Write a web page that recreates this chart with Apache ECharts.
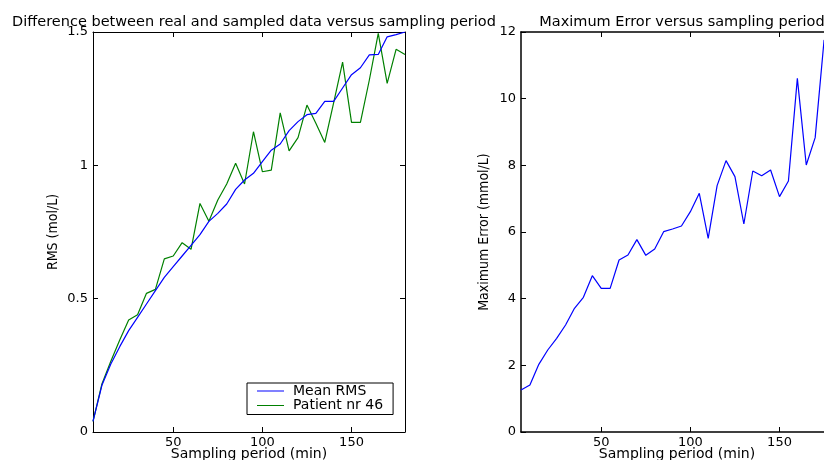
<!DOCTYPE html>
<html>
<head>
<meta charset="utf-8">
<script src="https://cdn.jsdelivr.net/npm/echarts@6/dist/echarts.min.js"></script>
<style>
html,body{margin:0;padding:0;background:#fff;overflow:hidden;}
#chart{width:824px;height:460px;}
</style>
</head>
<body>
<div id="chart"></div>
<script>
const samplingPeriod = [5,10,15,20,25,30,35,40,45,50,55,60,65,70,75,80,85,90,95,100,105,110,115,120,125,130,135,140,145,150,155,160,165,170,175,180];
const meanRms = [0.04,0.175,0.255,0.32,0.38,0.43,0.48,0.53,0.58,0.62,0.66,0.70,0.74,0.79,0.82,0.855,0.91,0.945,0.97,1.014,1.057,1.08,1.13,1.164,1.19,1.195,1.24,1.24,1.29,1.34,1.366,1.414,1.416,1.482,1.49,1.50];
const patient46 = [0.04,0.18,0.265,0.345,0.42,0.44,0.52,0.535,0.649,0.66,0.71,0.685,0.857,0.79,0.87,0.93,1.008,0.93,1.126,0.976,0.982,1.197,1.054,1.104,1.226,1.158,1.086,1.235,1.387,1.161,1.161,1.32,1.495,1.307,1.435,1.416];
const maxError = [1.26,1.41,2.03,2.46,2.81,3.21,3.71,4.04,4.69,4.31,4.31,5.16,5.31,5.77,5.30,5.49,6.01,6.09,6.18,6.61,7.16,5.81,7.39,8.14,7.66,6.24,7.83,7.69,7.86,7.06,7.53,10.61,8.01,8.83,11.76,11.2];
const xTicks = [50,100,150];
const rmsTicks = [0,0.5,1,1.5];
const errTicks = [0,2,4,6,8,10,12];
const titles = ['Difference between real and sampled data versus sampling period','Maximum Error versus sampling period'];
const xName = 'Sampling period (min)';
const yNames = ['RMS (mol/L)','Maximum Error (mmol/L)'];
const seriesNames = ['Mean RMS','Patient nr 46','Maximum Error'];

const FONT = "'DejaVu Sans', sans-serif";
const NARROW = "'Liberation Sans Narrow', 'DejaVu Sans Condensed', sans-serif";
const pairs = ys => samplingPeriod.map((x,i)=>[x, ys[i]]);

const grids = [
  {left:93, top:32, width:312, height:400, containLabel:false, outerBoundsMode:'none'},
  {left:521, top:32, width:312, height:400, containLabel:false, outerBoundsMode:'none'}
];
function xAx(g, pos, lw, withLabel){
  return {
    type:'value', gridIndex:g, position:pos, min:5, max:180,
    axisLine:{show:true, onZero:false, lineStyle:{color:'#000', width:lw}},
    axisTick:{show:true, inside:true, length:5, customValues:xTicks, lineStyle:{color:'#000', width:1}},
    axisLabel:{show:withLabel, customValues:xTicks, color:'#000', fontFamily:FONT, fontSize:13, margin:4},
    splitLine:{show:false},
    name: withLabel ? xName : '', nameLocation:'middle', nameGap:15, nameMoveOverlap:false,
    nameTextStyle:{color:'#000', fontFamily:FONT, fontSize:14}
  };
}
function yAx(g, pos, lw, withLabel, max, interval, name, gap){
  return {
    type:'value', gridIndex:g, position:pos, min:0, max:max, interval:interval,
    axisLine:{show:true, onZero:false, lineStyle:{color:'#000', width:lw}},
    axisTick:{show:true, inside:true, length:5, lineStyle:{color:'#000', width:1}},
    axisLabel:{show:withLabel, color:'#000', fontFamily:FONT, fontSize:13, margin:5},
    splitLine:{show:false},
    name: withLabel ? name : '', nameLocation:'middle', nameRotate:90, nameGap:gap, nameMoveOverlap:false,
    nameTextStyle:{color:'#000', fontFamily:NARROW, fontSize:14}
  };
}

const chart = echarts.init(document.getElementById('chart'), null, {renderer:'canvas'});
chart.setOption({
  animation:false,
  backgroundColor:'#fff',
  title:[
    {text:titles[0], left:249, top:10, textAlign:'center', textStyle:{color:'#000', fontWeight:'normal', fontFamily:FONT, fontSize:14.5}},
    {text:titles[1], left:677, top:10, textAlign:'center', textStyle:{color:'#000', fontWeight:'normal', fontFamily:FONT, fontSize:14.5}}
  ],
  grid:grids,
  xAxis:[xAx(0,'bottom',1,true), xAx(0,'top',1,false), xAx(1,'bottom',1.5,true), xAx(1,'top',1.5,false)],
  yAxis:[yAx(0,'left',1,true,1.5,0.5,yNames[0],33), yAx(0,'right',1,false,1.5,0.5,'',0),
         yAx(1,'left',1.5,true,12,2,yNames[1],30), yAx(1,'right',1.5,false,12,2,'',0)],
  legend:{
    data:[seriesNames[0], seriesNames[1]],
    orient:'vertical', left:247, top:383,
    icon:'rect',
    borderColor:'#000', borderWidth:1, borderRadius:0,
    padding:[1,10,2,10], itemGap:0.5, itemWidth:27, itemHeight:1,
    backgroundColor:'#fff',
    textStyle:{color:'#000', fontFamily:FONT, fontSize:14, lineHeight:13, padding:[0,0,0,4]}
  },
  series:[
    {name:seriesNames[0], type:'line', xAxisIndex:0, yAxisIndex:0, data:pairs(meanRms), symbol:'none', lineStyle:{color:'#0000ff', width:1.2}, itemStyle:{color:'#0000ff'}, z:3},
    {name:seriesNames[1], type:'line', xAxisIndex:0, yAxisIndex:0, data:pairs(patient46), symbol:'none', lineStyle:{color:'#008000', width:1.2}, itemStyle:{color:'#008000'}, z:2},
    {name:seriesNames[2], type:'line', xAxisIndex:2, yAxisIndex:2, data:pairs(maxError), symbol:'none', lineStyle:{color:'#0000ff', width:1.2}, itemStyle:{color:'#0000ff'}, clip:false}
  ]
});
</script>
</body>
</html>
